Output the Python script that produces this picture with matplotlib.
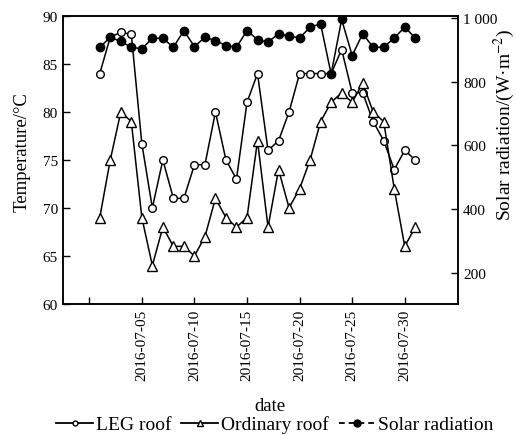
import matplotlib
matplotlib.use('Agg')
import matplotlib.pyplot as plt
from matplotlib.lines import Line2D
import pandas as pd

plt.rcParams['font.family'] = ['Liberation Serif', 'DejaVu Serif']
plt.rcParams['mathtext.fontset'] = 'stix'

# daily values, July 2016
dates = pd.date_range('2016-07-01', '2016-07-31', freq='D')
leg_roof = [84, 87.8, 88.3, 88.1, 76.7, 70, 75, 71, 71, 74.5, 74.5, 80, 75, 73, 81, 84,
            76, 77, 80, 84, 84, 84, 84, 86.5, 82, 82, 79, 77, 74, 76, 75]
ordinary_roof = [69, 75, 80, 79, 69, 64, 68, 66, 66, 65, 67, 71, 69, 68, 69, 77,
                 68, 74, 70, 72, 75, 79, 81, 82, 81, 83, 80, 79, 72, 66, 68]
solar = [908, 939, 926, 908, 903, 936, 936, 908, 960, 910, 939, 929, 913, 908, 960, 932,
         924, 950, 943, 937, 971, 981, 824, 995, 882, 950, 908, 908, 937, 971, 937]

tick_dates = pd.date_range('2016-06-30', '2016-07-30', freq='5D')
tick_labels = [''] + [d.strftime('%Y-%m-%d') for d in tick_dates[1:]]

fig = plt.figure(figsize=(5.16, 4.35), dpi=100)
ax = fig.add_axes([0.122, 0.299, 0.766, 0.662])
ax2 = ax.twinx()

ax.plot(dates, leg_roof, color='black', lw=1.1, marker='o', ms=5.5,
        mfc='white', mec='black', mew=1.0, zorder=3)
ax.plot(dates, ordinary_roof, color='black', lw=1.1, marker='^', ms=6.5,
        mfc='white', mec='black', mew=1.0, zorder=3)
ax2.plot(dates, solar, color='black', lw=1.1, marker='o', ms=6,
         mfc='black', mec='black')

ax.set_xlim(pd.Timestamp('2016-06-27 12:00'), pd.Timestamp('2016-08-04 02:00'))
ax.set_ylim(60, 90)
ax.set_yticks([60, 65, 70, 75, 80, 85, 90])
ax2.set_ylim(103, 1006)
ax2.set_yticks([200, 400, 600, 800, 1000])
ax2.set_yticklabels(['200', '400', '600', '800', '1 000'])

ax.set_xticks(tick_dates)
ax.set_xticklabels(tick_labels, rotation=90)

for a in (ax, ax2):
    a.tick_params(direction='in', length=5, width=1, labelsize=11)
    for s in a.spines.values():
        s.set_linewidth(1.1)

ax.set_xlabel('date', fontsize=13.5)
ax.xaxis.set_label_coords(0.524, -0.322)
ax.set_ylabel('Temperature/°C', fontsize=13.5)
ax.yaxis.set_label_coords(-0.082, 0.531)
ax2.set_ylabel('Solar radiation/(W·m$^{-2}$)', fontsize=14)
ax2.yaxis.set_label_coords(1.086, 0.625)

# legend handles
h1 = Line2D([], [], color='black', lw=1.3, marker='o', ms=3.5, mfc='white', mec='black')
h2 = Line2D([], [], color='black', lw=1.3, marker='^', ms=4.5, mfc='white', mec='black')
h3 = Line2D([], [], color='black', lw=1.3, ls=(0, (3.2, 2.2)), marker='o', ms=5, mfc='black')
fig.legend(handles=[h1, h2, h3], labels=['LEG roof', 'Ordinary roof', 'Solar radiation'],
           loc='center', bbox_to_anchor=(0.533, 0.022), ncol=3, frameon=False,
           fontsize=14, handlelength=1.9, handletextpad=0.15, columnspacing=0.5,
           borderpad=0, borderaxespad=0)

fig.savefig('out.png', dpi=100)
